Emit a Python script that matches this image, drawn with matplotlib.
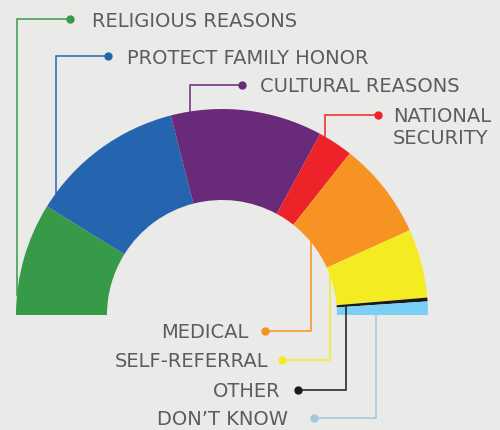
import numpy as np
import matplotlib.pyplot as plt

# share of responses (percent), left to right along the half ring
reasons = ["RELIGIOUS REASONS", "PROTECT FAMILY HONOR", "CULTURAL REASONS",
           "NATIONAL\nSECURITY", "MEDICAL", "SELF-REFERRAL", "OTHER", "DON\u2019T KNOW"]
shares = [17.7, 24.3, 23.8, 5.5, 15.2, 10.8, 0.6, 2.1]
colors = ["#379a48", "#2565b0", "#6a2a7a", "#ee2229", "#f69322", "#f5eb23",
          "#1a1a1a", "#7acff5"]
line_colors = ["#379a48", "#2565b0", "#6a2a7a", "#ee2229", "#f69322", "#f5eb23",
               "#1a1a1a", "#a6c6da"]

W, H = 500, 431
BG = "#eaeae8"
TXT = "#5c5c5c"
CX, CY = 222, H - 316      # ring centre (y up)
R_OUT, R_IN = 206, 115

# label layout: x of the vertical leader, y of the label (pixels from top),
# x of the dot, gap dot->text, side of the text
leader_x = [17, 56, 190, 325, 311, 330, 346, 376]
label_y = [20, 57, 86, 116, 332, 361, 391, 419]
dot_x = [70, 108, 242, 378, 265, 282, 298, 314]
text_gap = [22, 19, 18, 15, 17, 14, 17, 26]
above = [True, True, True, True, False, False, False, False]

fig = plt.figure(figsize=(W / 100, H / 100), dpi=100, facecolor=BG)
ax = fig.add_axes([0, 0, 1, 1])
ax.set_facecolor(BG)

wedges, _ = ax.pie(shares + [sum(shares)], colors=colors + [BG],
                   startangle=180, counterclock=False,
                   radius=R_OUT, center=(CX, CY), frame=True,
                   wedgeprops=dict(width=R_OUT - R_IN, linewidth=0))
wedges[-1].set_visible(False)

ax.set_xlim(0, W)
ax.set_ylim(0, H)
ax.set_aspect("equal")
ax.axis("off")

for i, name in enumerate(reasons):
    w = wedges[i]
    x = leader_x[i]
    y = H - label_y[i]
    dx = x - CX
    if above[i]:
        y_end = CY + np.sqrt(max(R_OUT ** 2 - dx ** 2, 0))
    elif abs(dx) < R_IN:
        y_end = CY + np.sqrt(R_IN ** 2 - dx ** 2)
    else:
        mid = np.radians((w.theta1 + w.theta2) / 2)
        y_end = CY + dx * np.tan(mid)
    ax.plot([dot_x[i], x, x], [y, y, y_end], color=line_colors[i], lw=1.1,
            zorder=3, solid_joinstyle="miter")
    ax.plot(dot_x[i], y, "o", color=line_colors[i], ms=5, zorder=4)
    if above[i]:
        if "\n" in name:
            ax.text(dot_x[i] + text_gap[i], y + 9, name, ha="left", va="top",
                    fontsize=14, color=TXT, linespacing=1.2)
        else:
            ax.text(dot_x[i] + text_gap[i], y - 1, name, ha="left", va="center",
                    fontsize=14, color=TXT)
    else:
        ax.text(dot_x[i] - text_gap[i], y - 1, name, ha="right", va="center",
                fontsize=14, color=TXT)

fig.savefig("out.png", dpi=100, facecolor=BG)
